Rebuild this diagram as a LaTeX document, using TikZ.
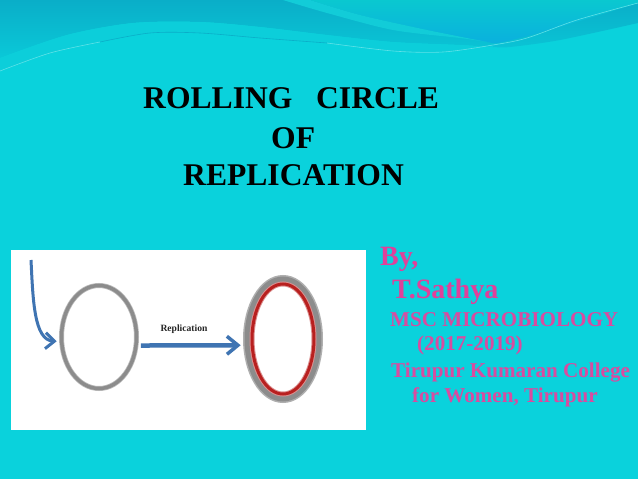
\documentclass[tikz,border=0pt]{standalone}
\usepackage{fontspec}
\setmainfont{Liberation Serif}
\usetikzlibrary{arrows.meta,shapes.geometric}
\definecolor{bgc}{HTML}{0AD2DC}
\definecolor{bandTop}{HTML}{0AAEC8}
\definecolor{bandBot}{HTML}{0AC8D8}
\definecolor{bandB}{HTML}{0CCEDA}
\definecolor{bandC}{HTML}{0AC8D0}
\definecolor{bandD}{HTML}{0AB0DE}
\definecolor{stripc}{HTML}{12CCD8}
\definecolor{pinkc}{HTML}{E0409A}
\definecolor{pinkd}{HTML}{D84CA0}
\definecolor{bluec}{HTML}{3F74B2}
\definecolor{greyc}{HTML}{8C8C8C}
\definecolor{redc}{HTML}{B8201F}
\tikzset{
  titletext/.style={font=\bfseries\fontsize{31.6}{31.6}\selectfont,text=black,inner sep=0pt,anchor=base west},
  pinkbig/.style={font=\bfseries\fontsize{28}{28}\selectfont,text=pinkc,inner sep=0pt,anchor=base west},
  pinksmall/.style={font=\bfseries\fontsize{21.1}{21.1}\selectfont,text=pinkd,inner sep=0pt,anchor=base west},
  flow/.style={draw=bluec,line width=3pt,-{Straight Barb[length=9pt,width=16pt,line width=3pt]}},
  flowbig/.style={draw=bluec,line width=4.5pt,-{Straight Barb[length=11pt,width=18pt,line width=3.5pt]}},
  ring/.style={ellipse,inner sep=0pt,outer sep=0pt},
}
\begin{document}
\begin{tikzpicture}[x=1pt,y=-1pt]
\useasboundingbox (0,0) rectangle (638,479);
\fill[bgc] (0,0) rectangle (638,479);
% dark band
\shade[top color=bandTop,bottom color=bandBot]
  (0,0) -- (638,0)
  -- plot[smooth] coordinates {(638,23) (560,40) (510,47) (493,47) (460,45) (393,42) (327,35) (260,27) (200,22) (133,23) (67,35) (0,58)}
  -- cycle;
% lighter band under the dark band
\fill[bandB]
  plot[smooth] coordinates {(0,58) (67,35) (133,23) (200,22) (260,27) (327,35) (393,42) (460,45) (493,47)}
  -- plot[smooth] coordinates {(493,46) (443,52) (393,51) (327,43) (260,38) (200,33) (150,33) (100,42) (50,53) (0,71)}
  -- cycle;
% blue region, top right
\shade[top color=bandC,bottom color=bandD]
  (310,0) -- (638,0)
  -- plot[smooth] coordinates {(638,3) (560,27) (503,42) (487,42) (427,30) (360,15) (310,0)}
  -- cycle;
% light strip
\fill[stripc]
  plot[smooth] coordinates {(283,0) (327,13) (393,30) (460,38) (487,42)}
  -- plot[smooth] coordinates {(487,42) (427,30) (360,15) (310,0)}
  -- cycle;
% thin lines
\draw[white!35!bgc,line width=0.6pt] plot[smooth] coordinates {(0,71) (50,53) (100,42)};
\draw[bandTop,line width=0.6pt] plot[smooth] coordinates {(100,42) (150,33) (200,33) (260,38) (327,43)};
\draw[white!35!bgc,line width=0.6pt] plot[smooth] coordinates {(327,43) (393,51) (443,52) (493,45) (527,38) (577,20) (638,3)};
% title
\node[titletext] (t1) at (143,108) {ROLLING\ \ \ CIRCLE};
\node[titletext] (t2) at (271,148) {OF};
\node[titletext] (t3) at (183,185) {REPLICATION};
% picture panel
\fill[white] (10.5,250) rectangle (366,430);
\node[ring,draw=greyc!60,line width=5pt,minimum width=75pt,minimum height=103pt] (haloA) at (99,337) {};
\node[ring,draw=greyc,line width=3.5pt,minimum width=75pt,minimum height=103pt] (ringA) at (99,337) {};
\node[ring,draw=greyc!70,line width=9pt,minimum width=71pt,minimum height=119pt] (haloB) at (283,339) {};
\node[ring,draw=greyc,line width=6pt,minimum width=71pt,minimum height=119pt] (ringB) at (283,339) {};
\node[ring,draw=redc!50,line width=5pt,minimum width=62pt,minimum height=110pt] (haloC) at (283,339) {};
\node[ring,draw=redc,line width=3pt,minimum width=62pt,minimum height=110pt] (ringC) at (283,339) {};
\coordinate (a0) at (31,260);
\draw[flow,shorten >=5pt] (a0) .. controls (33,300) and (34,340) .. (ringA.187);
\draw[flowbig,shorten <=5pt,shorten >=7pt] (ringA.-13.5) -- (ringB.190);
\node[font=\bfseries\fontsize{9.6}{9.6}\selectfont,text=black!85,inner sep=0pt] (rep) at (184,329.5) {Replication};
% author text
\node[pinkbig] (b) at (380,265) {By,};
\node[pinkbig] (s) at (392,298) {T.Sathya};
\node[pinksmall] (m) at (390,326) {MSC MICROBIOLOGY};
\node[pinksmall] (y) at (417,350) {(2017-2019)};
\node[pinksmall] (c) at (391,377) {Tirupur Kumaran College};
\node[pinksmall] (w) at (412,402) {for Women, Tirupur};
\end{tikzpicture}
\end{document}
